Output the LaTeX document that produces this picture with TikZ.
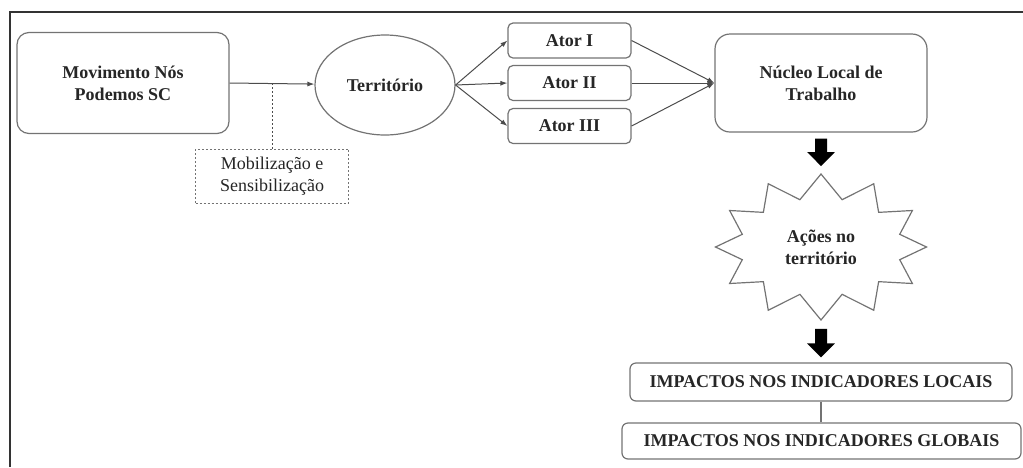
\documentclass[tikz,border=0pt]{standalone}
\usepackage{fontspec}
\setmainfont{Liberation Serif}
\usetikzlibrary{shapes.geometric,shapes.symbols,arrows.meta}

\tikzset{
  caixa/.style={draw=black!55,line width=1.2pt,rounded corners=12pt,align=center,
    text=black!85,font=\bfseries\fontsize{18}{22}\selectfont},
  ator/.style={caixa,rounded corners=5pt,minimum width=123pt,minimum height=35pt},
  impacto/.style={caixa,rounded corners=6pt},
  seta/.style={draw=black!70,line width=1pt,-{Latex[length=7pt,width=5pt]}},
  setagrossa/.style={black,line width=12pt,-{Triangle[width=27pt,length=14pt]}},
}

\begin{document}
\begin{tikzpicture}[x=1pt,y=-1pt]
	\useasboundingbox (0,0) rectangle (1023,467);
	\draw[black!80,line width=1.5pt] (10,467) -- (10,12) -- (1023,12);

	\node[caixa,minimum width=212pt,minimum height=101pt] (mov) at (123,83) {Movimento Nós\\Podemos SC};
	\node[caixa,ellipse,minimum width=140pt,minimum height=100pt] (terr) at (385,85) {Território};

	% atores
	\node[ator] (a1) at (569.5,40.5) {Ator I};
	\node[ator] (a2) at (569.5,83) {Ator II};
	\node[ator] (a3) at (569.5,126) {Ator III};

	\node[caixa,rounded corners=15pt,minimum width=212pt,minimum height=98pt] (nuc) at (821,83) {Núcleo Local de\\Trabalho};

	\node[caixa,sharp corners,starburst,starburst points=12,starburst point height=24pt,random starburst=0,
	  minimum width=211pt,minimum height=146pt] (acoes) at (821,247) {Ações no\\território};

	\node[impacto,minimum width=382pt,minimum height=38pt] (loc) at (821,382) {IMPACTOS NOS INDICADORES LOCAIS};
	\node[impacto,minimum width=399pt,minimum height=36pt] (glob) at (821.5,441) {IMPACTOS NOS INDICADORES GLOBAIS};

	\node[draw=black!55,dash pattern=on 2pt off 2pt,line width=1pt,align=center,text=black!85,
	  font=\fontsize{18}{22}\selectfont,minimum width=153pt,minimum height=54pt] (mob) at (272,176) {Mobilização e\\Sensibilização};

	% ligacoes
	\draw[seta] (mov.east) -- (terr);
	\draw[black!70,line width=1pt,dash pattern=on 2pt off 2pt] (mob.north) -- (mob.north |- mov.east);

	\draw[seta] (terr.east) -- (a1.west);
	\draw[seta] (terr.east) -- (a2.west);
	\draw[seta] (terr.east) -- (a3.west);
	\draw[seta] (a1.east) -- (nuc.west);
	\draw[seta] (a2.east) -- (nuc.west);
	\draw[seta] (a3.east) -- (nuc.west);

	\draw[setagrossa,shorten <=6pt,shorten >=7pt] (nuc.south) -- (acoes.north);
	\draw[setagrossa,shorten <=8pt,shorten >=5pt] (acoes.south) -- (loc.north);
	\draw[black!55,line width=1.2pt] (loc.south) -- (loc.south |- glob.north);
\end{tikzpicture}
\end{document}
